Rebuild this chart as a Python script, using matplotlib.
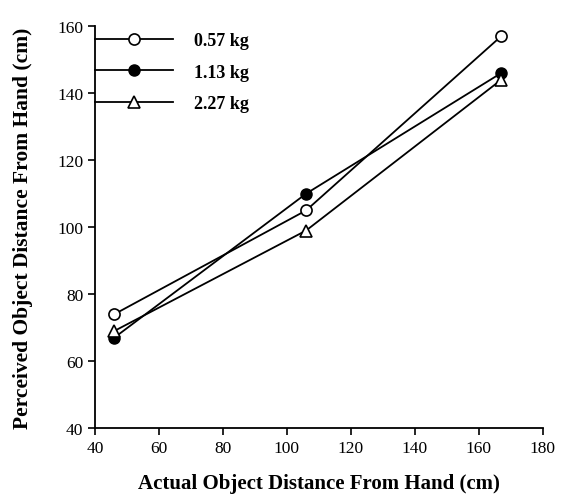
import matplotlib
matplotlib.use("Agg")
import matplotlib.pyplot as plt

plt.rcParams['font.family'] = ['Liberation Serif', 'DejaVu Serif']

# actual distance (cm) and perceived distance (cm) per weight
actual = [46, 106, 167]
w057 = [74, 105, 157]
w113 = [67, 110, 146]
w227 = [69, 99, 144]
labels = ['0.57 kg', '1.13 kg', '2.27 kg']

fig = plt.figure(figsize=(5.69, 5.02), dpi=100)
ax = fig.add_axes([0.167, 0.145, 0.787, 0.801])

ax.plot(actual, w057, color='black', lw=1.3, marker='o', ms=8,
        mfc='white', mec='black', mew=1.2, label=labels[0])
ax.plot(actual, w113, color='black', lw=1.3, marker='o', ms=8,
        mfc='black', mec='black', label=labels[1])
ax.plot(actual, w227, color='black', lw=1.3, marker='^', ms=9,
        mfc='white', mec='black', mew=1.2, label=labels[2])

ax.set_xlim(40, 180)
ax.set_ylim(40, 160)
ax.set_xticks(range(40, 181, 20))
ax.set_yticks(range(40, 161, 20))
ax.spines['top'].set_visible(False)
ax.spines['right'].set_visible(False)
ax.spines['left'].set_linewidth(1.3)
ax.spines['bottom'].set_linewidth(1.3)
ax.tick_params(direction='out', length=5, width=1.2, labelsize=12.5)

ax.set_xlabel('Actual Object Distance From Hand (cm)', fontsize=15,
              fontweight='bold', labelpad=12)
ax.set_ylabel('Perceived Object Distance From Hand (cm)', fontsize=15.5,
              fontweight='bold', labelpad=17)

leg = ax.legend(loc='upper left', bbox_to_anchor=(0, 0.985), frameon=False,
                borderaxespad=0, borderpad=0, handlelength=4.3,
                handletextpad=1.2, labelspacing=0.8,
                prop={'weight': 'bold', 'size': 13})

fig.savefig('out.png', dpi=100)
